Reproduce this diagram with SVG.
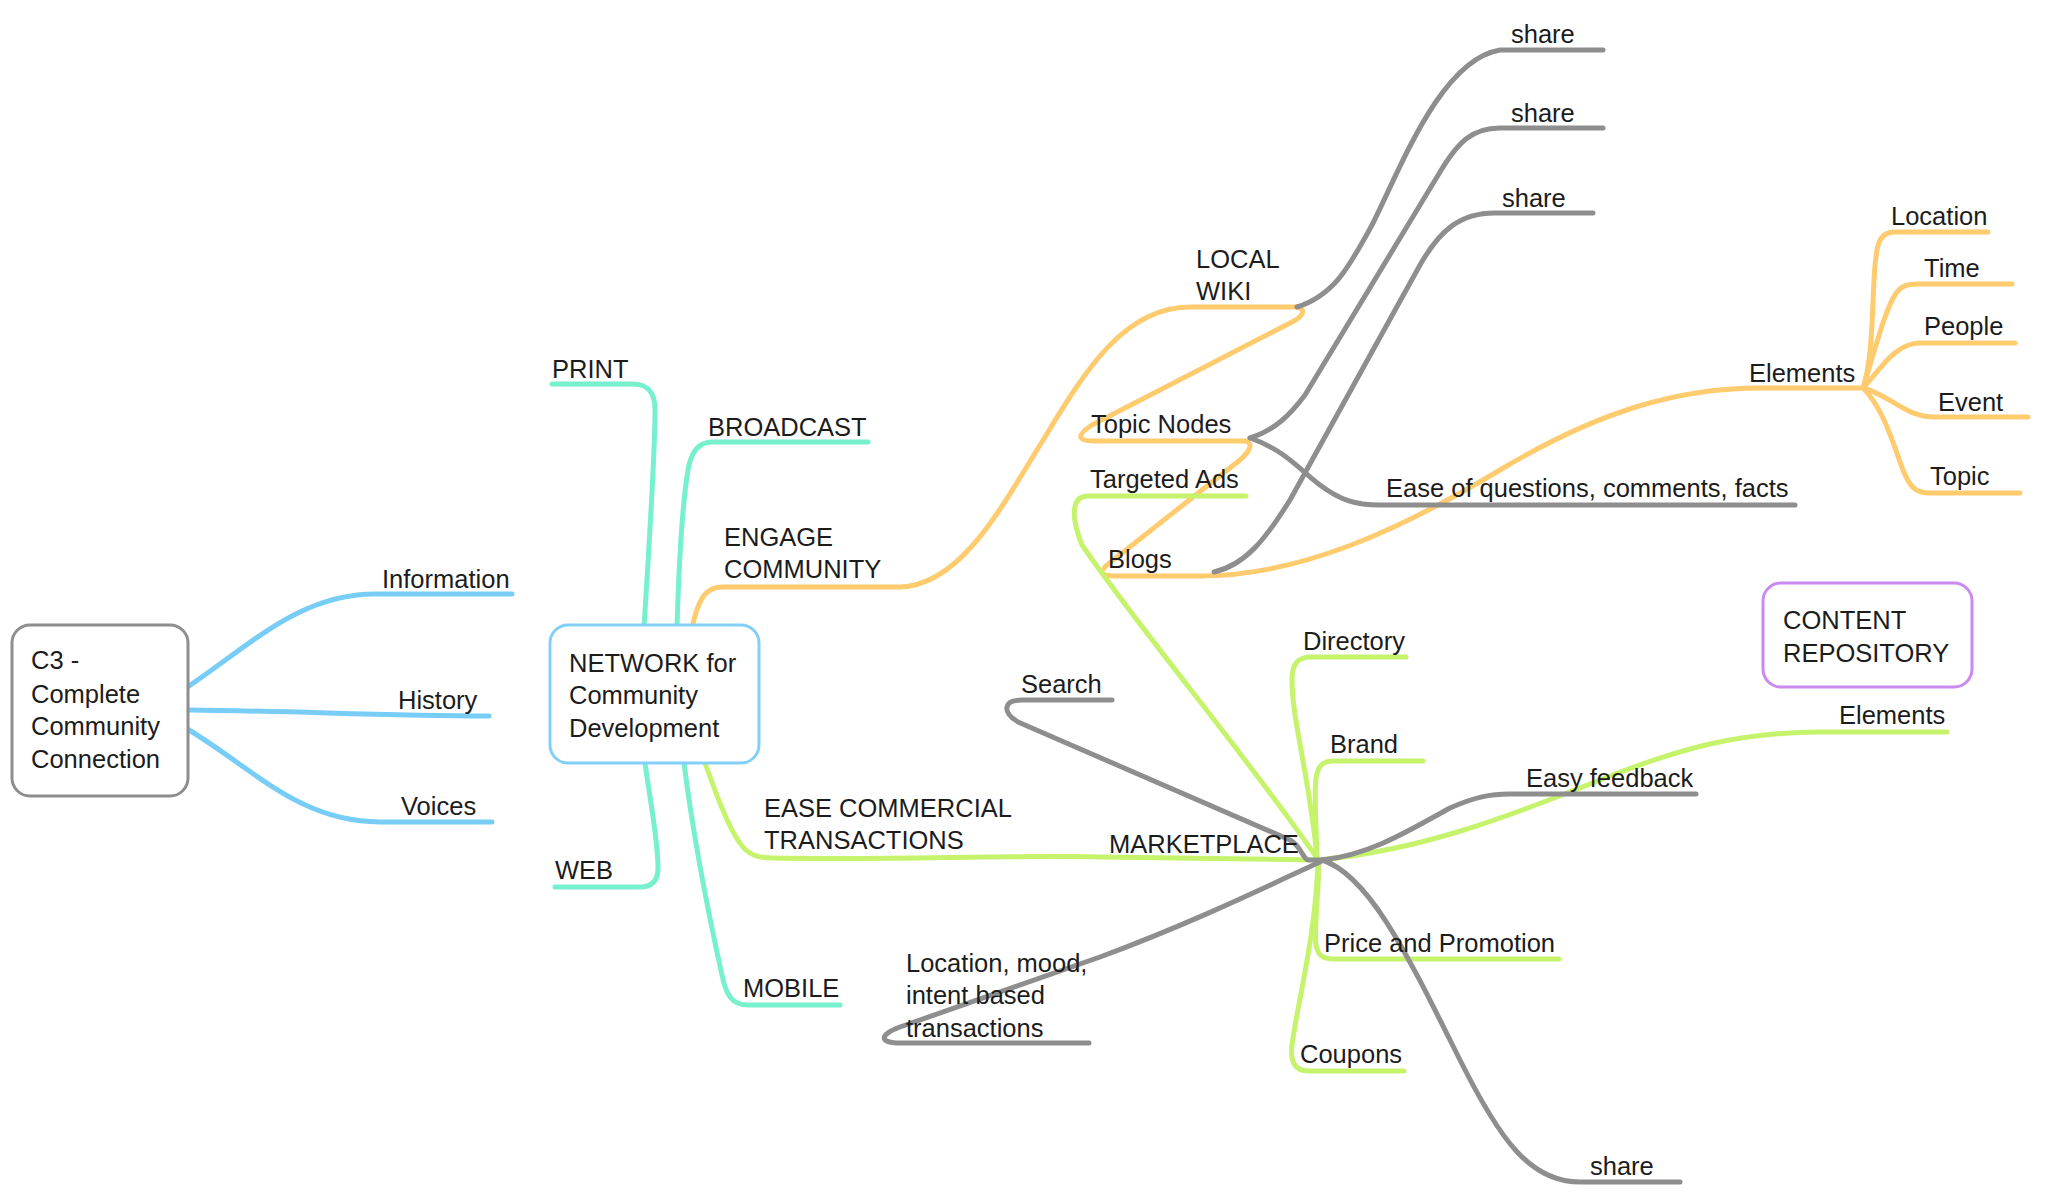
<svg xmlns="http://www.w3.org/2000/svg" width="2048" height="1202" viewBox="0 0 2048 1202">
<style>
.c{fill:none;stroke-width:5;stroke-linecap:round;stroke-linejoin:round}
.b{stroke:#78CDF7}.t{stroke:#76F0CD}.o{stroke:#FFCB6F}.g{stroke:#C6F36C}.k{stroke:#8E8E8E}
text{font-family:"Liberation Sans",Arial,sans-serif;font-size:25.5px;fill:#1c1c1c}
.box{fill:#fff;stroke-width:3}
</style>
<rect width="2048" height="1202" fill="#fff"/>
<g id="connectors">
<path class="c b" d="M189,686 C250,645 300,594 375,594 L512,594"/>
<path class="c b" d="M189,710 C300,711 380,716 489,716"/>
<path class="c b" d="M189,730 C255,770 300,822 380,822 L492,822"/>
<path class="c t" d="M644,628 C648,560 655,460 655,410 C655,392 648,384 632,384 L552,384"/>
<path class="c t" d="M677,628 C679,560 683,500 688,470 C691,452 698,442 712,442 L868,442"/>
<path class="c t" d="M645,763 C650,800 658,840 658,868 C658,881 652,887 640,887 L555,887"/>
<path class="c t" d="M684,763 C695,850 712,930 722,975 C726,995 732,1005 748,1005 L840,1005"/>
<path class="c o" d="M692,628 C698,600 705,587 722,587 L900,587 C960,585 1000,510 1040,445 C1080,380 1120,307 1190,307 L1297,307"/>
<path class="c o" d="M1297,307 C1306,309 1304,316 1292,322 L1092,425 C1075,436 1078,441 1095,441 L1245,441"/>
<path class="c o" d="M1245,441 C1254,443 1250,451 1240,460 L1112,561 C1097,572 1100,576 1115,576 L1200,576"/>
<path class="c o" d="M1200,576 C1300,576 1400,530 1500,470 C1600,410 1680,388 1760,388 L1863,388"/>
<path class="c o" d="M1863,388 C1872,360 1872,320 1874,280 C1876,245 1878,232 1895,232 L1988,232"/>
<path class="c o" d="M1863,388 C1875,350 1885,310 1895,295 C1900,287 1905,284 1918,284 L2012,284"/>
<path class="c o" d="M1863,388 C1880,370 1895,343 1920,343 L2015,343"/>
<path class="c o" d="M1863,388 C1890,395 1905,417 1935,417 L2028,417"/>
<path class="c o" d="M1863,388 C1885,410 1895,450 1903,470 C1910,487 1915,493 1930,493 L2020,493"/>
<path class="c k" d="M1297,307 C1335,295 1350,265 1372,225 C1400,170 1440,60 1500,50 L1603,50"/>
<path class="c k" d="M1250,438 C1275,430 1290,415 1305,395 L1440,172 C1458,142 1472,128 1500,128 L1603,128"/>
<path class="c k" d="M1214,572 C1245,565 1265,540 1290,500 L1420,265 C1440,230 1460,213 1495,213 L1593,213"/>
<path class="c k" d="M1250,438 C1285,450 1300,470 1320,485 C1340,500 1355,505 1380,505 L1795,505"/>
<path class="c g" d="M705,763 C720,805 735,845 750,853 C756,857 762,858 772,858 C900,860 1000,855 1100,857 L1319,860"/>
<path class="c g" d="M1246,496 L1088,496 C1072,496 1070,515 1082,545 C1140,630 1250,760 1317,858"/>
<path class="c g" d="M1317,858 C1310,780 1292,720 1292,680 C1292,663 1298,657 1312,657 L1406,657"/>
<path class="c g" d="M1317,858 C1316,820 1314,790 1316,778 C1318,766 1322,761 1334,761 L1423,761"/>
<path class="c g" d="M1319,860 C1420,850 1500,820 1600,780 C1680,748 1740,732 1820,732 L1947,732"/>
<path class="c g" d="M1319,862 C1318,900 1314,930 1316,945 C1318,955 1322,959 1334,959 L1559,959"/>
<path class="c g" d="M1318,862 C1315,940 1298,1000 1292,1045 C1290,1062 1295,1071 1308,1071 L1404,1071"/>
<path class="c k" d="M1112,700 L1022,700 C1003,700 1002,712 1018,722 L1290,840 C1302,847 1302,858 1308,860 L1324,860"/>
<path class="c k" d="M1322,860 C1370,855 1410,830 1450,808 C1475,797 1490,794 1510,794 L1696,794"/>
<path class="c k" d="M1320,862 C1280,880 1200,920 1100,957 L900,1027 C878,1035 880,1043 900,1043 L1089,1043"/>
<path class="c k" d="M1322,860 C1370,875 1410,960 1460,1060 C1500,1140 1530,1182 1580,1182 L1680,1182"/>
</g>
<g id="c3">
<rect class="box" x="12" y="625" width="176" height="171" rx="18" stroke="#8E8E8E"/>
<text x="31" y="669">C3 -</text><text x="31" y="703">Complete</text><text x="31" y="735">Community</text><text x="31" y="768">Connection</text>
</g>
<g id="information"><text x="382" y="588">Information</text></g>
<g id="history"><text x="398" y="709">History</text></g>
<g id="voices"><text x="401" y="815">Voices</text></g>
<g id="network">
<rect class="box" x="550" y="625" width="209" height="138" rx="18" stroke="#82CFF7"/>
<text x="569" y="672">NETWORK for</text><text x="569" y="704">Community</text><text x="569" y="737">Development</text>
</g>
<g id="print"><text x="552" y="378">PRINT</text></g>
<g id="broadcast"><text x="708" y="436">BROADCAST</text></g>
<g id="engage"><text x="724" y="546">ENGAGE</text><text x="724" y="578">COMMUNITY</text></g>
<g id="web"><text x="555" y="879">WEB</text></g>
<g id="mobile"><text x="743" y="997">MOBILE</text></g>
<g id="ease-commercial"><text x="764" y="817">EASE COMMERCIAL</text><text x="764" y="849">TRANSACTIONS</text></g>
<g id="local-wiki"><text x="1196" y="268">LOCAL</text><text x="1196" y="300">WIKI</text></g>
<g id="share1"><text x="1511" y="43">share</text></g>
<g id="share2"><text x="1511" y="122">share</text></g>
<g id="share3"><text x="1502" y="207">share</text></g>
<g id="topic-nodes"><text x="1091" y="433">Topic Nodes</text></g>
<g id="targeted-ads"><text x="1090" y="488">Targeted Ads</text></g>
<g id="blogs"><text x="1108" y="568">Blogs</text></g>
<g id="ease-questions"><text x="1386" y="497">Ease of questions, comments, facts</text></g>
<g id="elements-orange"><text x="1749" y="382">Elements</text></g>
<g id="location"><text x="1891" y="225">Location</text></g>
<g id="time"><text x="1924" y="277">Time</text></g>
<g id="people"><text x="1924" y="335">People</text></g>
<g id="event"><text x="1938" y="411">Event</text></g>
<g id="topic"><text x="1930" y="485">Topic</text></g>
<g id="content-repository">
<rect class="box" x="1763" y="583" width="209" height="104" rx="18" stroke="#C98AF2"/>
<text x="1783" y="629">CONTENT</text><text x="1783" y="662">REPOSITORY</text>
</g>
<g id="elements-green"><text x="1839" y="724">Elements</text></g>
<g id="directory"><text x="1303" y="650">Directory</text></g>
<g id="search"><text x="1021" y="693">Search</text></g>
<g id="brand"><text x="1330" y="753">Brand</text></g>
<g id="easy-feedback"><text x="1526" y="787">Easy feedback</text></g>
<g id="marketplace"><text x="1109" y="853">MARKETPLACE</text></g>
<g id="location-mood"><text x="906" y="972">Location, mood,</text><text x="906" y="1004">intent based</text><text x="906" y="1037">transactions</text></g>
<g id="price-promotion"><text x="1324" y="952">Price and Promotion</text></g>
<g id="coupons"><text x="1300" y="1063">Coupons</text></g>
<g id="share4"><text x="1590" y="1175">share</text></g>
</svg>
